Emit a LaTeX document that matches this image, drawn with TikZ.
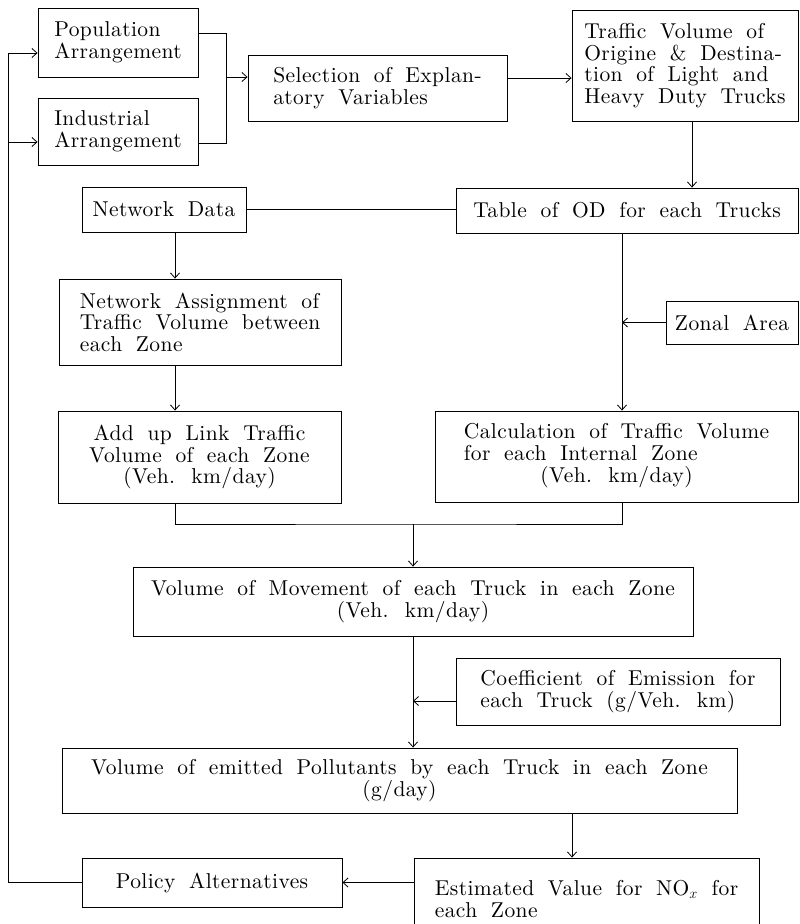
\documentclass[tikz,border=0pt]{standalone}
\usepackage{fontspec}
\setmainfont{lmroman10-regular.otf}[LetterSpace=2, WordSpace=1.8]
\usetikzlibrary{arrows.meta, calc}

\newcommand{\flowfont}{\fontsize{21.5}{21.5}\selectfont}
\tikzset{
  box/.style={draw, line width=0.9pt, inner sep=0pt, font=\flowfont},
  flow/.style={line width=0.8pt},
  arr/.style={flow, -{Straight Barb[length=5pt, width=9pt]}},
}

\begin{document}
\begin{tikzpicture}[x=1pt, y=-1pt]
  \clip (0,0) rectangle (800,924);

  % Input arrangements
  \node[box, minimum width=160pt, minimum height=69pt, align=left] (pop) at (118,42.5) {Population\\Arrangement};
  \node[box, minimum width=160pt, minimum height=67pt, align=left] (ind) at (118,131.5) {Industrial\\Arrangement};

  % Explanatory variables and OD volume
  \node[box, minimum width=259pt, minimum height=66pt, align=left] (sel) at (377.5,88) {Selection of Explan-\\atory Variables};
  \node[box, minimum width=226pt, minimum height=111pt, align=left] (tvod) at (685,65.5) {Traffic Volume of\\Origine \& Destina-\\tion of Light and\\Heavy Duty Trucks};

  % OD table and network
  \node[box, minimum width=342pt, minimum height=45pt] (tab) at (627,210.5) {Table of OD for each Trucks};
  \node[box, minimum width=164pt, minimum height=45pt] (net) at (164,209.5) {Network Data};
  \node[box, minimum width=282pt, minimum height=86pt, align=left] (nas) at (200,322) {Network Assignment of\\Traffic Volume between\\each Zone};
  \node[box, minimum width=132pt, minimum height=43pt] (zon) at (732,322.5) {Zonal Area};

  % Zone traffic volumes
  \node[box, minimum width=283pt, minimum height=92pt, align=center] (add) at (199.5,457) {Add up Link Traffic\\Volume of each Zone\\(Veh. km/day)};
  \node[box, minimum width=363pt, minimum height=91pt] (calc) at (616.5,456.5) {\begin{tabular}{@{}l@{}}Calculation of Traffic Volume\\for each Internal Zone\\\multicolumn{1}{@{}c@{}}{(Veh. km/day)}\end{tabular}};

  % Movement and emission
  \node[box, minimum width=560pt, minimum height=69pt, align=center] (mov) at (413,601.5) {Volume of Movement of each Truck in each Zone\\(Veh. km/day)};
  \node[box, minimum width=324pt, minimum height=67pt, align=left] (coef) at (618,691.5) {Coefficient of Emission for\\each Truck (g/Veh. km)};
  \node[box, minimum width=675pt, minimum height=65pt, align=center] (pol) at (399.5,780.5) {Volume of emitted Pollutants by each Truck in each Zone\\(g/day)};

  % Results and policy
  \node[box, minimum width=260pt, minimum height=49pt] (policy) at (212,882.5) {Policy Alternatives};
  \node[box, minimum width=345pt, minimum height=82pt, align=left] (est) at (586.5,899) {Estimated Value for NO$_x$ for\\each Zone};

  % Connectors
  \coordinate (lcol) at (175,0);
  \coordinate (rcol) at (622,0);
  \coordinate (tcol) at (692,0);
  \coordinate (ecol) at (572,0);
  \coordinate (popr) at (226,33);
  \coordinate (indr) at (226,143);
  \coordinate (jn) at (226,77);
  \coordinate (selr) at (507,78);
  \coordinate (mrg) at (413,524);
  \coordinate (coefin) at (413,701);
  \coordinate (fbtop) at (8,53);
  \coordinate (fbmid) at (8,142);

  \draw[flow] (pop.east |- popr) -- (popr) -- (indr) -- (ind.east |- indr);
  \draw[arr] (jn) -- (jn -| sel.west);
  \draw[arr] (sel.east |- selr) -- (tvod.west |- selr);
  \draw[arr] (tvod.south -| tcol) -- (tab.north -| tcol);
  \draw[flow] (net.east) -- (tab.west |- net.east);
  \draw[arr] (net.south -| lcol) -- (nas.north -| lcol);
  \draw[arr] (nas.south -| lcol) -- (add.north -| lcol);
  \draw[arr] (tab.south -| rcol) -- (calc.north -| rcol);
  \draw[arr] (zon.west) -- (zon.west -| rcol);
  \draw[flow] (add.south -| lcol) |- (mrg) -| (calc.south -| rcol);
  \draw[arr] (mrg) -- (mrg |- mov.north);
  \draw[arr] (mov.south) -- (mov.south |- pol.north);
  \draw[arr] (coef.west |- coefin) -- (coefin);
  \draw[arr] (pol.south -| ecol) -- (est.north -| ecol);
  \draw[arr] (est.west |- policy.east) -- (policy.east);
  \draw[arr] (policy.west) -| (fbtop) -- (fbtop -| pop.west);
  \draw[arr] (fbmid) -- (fbmid -| ind.west);
\end{tikzpicture}
\end{document}
